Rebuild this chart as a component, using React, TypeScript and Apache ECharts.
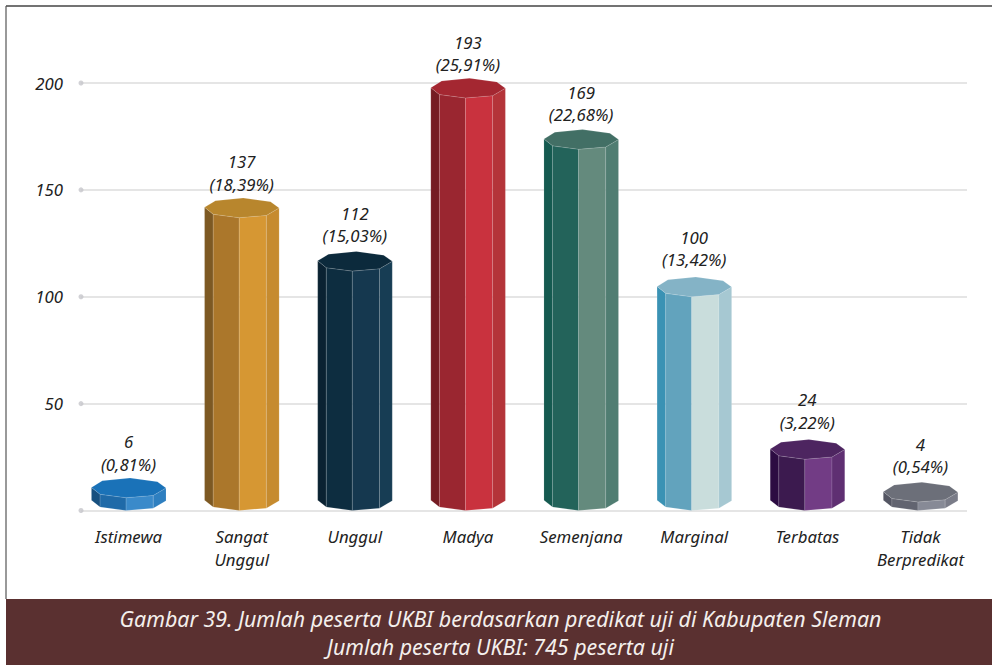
import React, { useEffect, useRef } from "react";
import * as echarts from "echarts";

const categories = ["Istimewa", "Sangat\nUnggul", "Unggul", "Madya", "Semenjana", "Marginal", "Terbatas", "Tidak\nBerpredikat"];
const counts = [6, 137, 112, 193, 169, 100, 24, 4];
const shares = ["(0,81%)", "(18,39%)", "(15,03%)", "(25,91%)", "(22,68%)", "(13,42%)", "(3,22%)", "(0,54%)"];
const yTicks = [0, 50, 100, 150, 200];
const captionLines = [
  "Gambar 39. Jumlah peserta UKBI berdasarkan predikat uji di Kabupaten Sleman",
  "Jumlah peserta UKBI: 745 peserta uji",
];
// top face, then the four visible side faces from left to right
const barColors = [
  ["#1a72b8", "#17507f", "#1f6aa8", "#3a8aca", "#2e7fc0"],
  ["#b8862d", "#7d5923", "#ab772b", "#d69733", "#c68b2f"],
  ["#0c2a3c", "#0a2232", "#0d2d40", "#15384f", "#173d54"],
  ["#a42731", "#751c23", "#9a2630", "#c9323e", "#b43439"],
  ["#426f65", "#155a50", "#23635a", "#648a7d", "#507d72"],
  ["#84b3c6", "#3a92b4", "#62a3bd", "#c9dddc", "#a6c8d2"],
  ["#4d2560", "#2c0c42", "#3c1a4f", "#723c85", "#5f2f72"],
  ["#6c6f79", "#545663", "#626470", "#878a96", "#7a7c88"],
];
// the labels were placed by hand in the reference: extra lift per bar, in pixels
const labelLift = [0, 0, 2, 0, 1.5, 4, 3.5, 2];

const FONT = '"Noto Sans", sans-serif';
// octagon outline, relative to its front vertex, in fractions of a category band
const OCTAGON = [
  [-0.306, -0.091], [-0.23, -0.03], [0, 0], [0.24, -0.02], [0.353, -0.086],
  [0.277, -0.141], [0.035, -0.174], [-0.21, -0.15],
];

function renderBar(params: any, api: any) {
  const i = api.value(0);
  const v = api.value(1);
  const top = api.coord([i, v]);
  const base = api.coord([i, 0]);
  const band = api.size([1, 0])[0];
  const fx = top[0] - 0.022 * band;
  const colors = barColors[i];
  const at = (o: number[], y: number) => [fx + o[0] * band, y + o[1] * band];
  const edge = { stroke: "rgba(255,255,255,0.15)", lineWidth: 0.8 };
  const children: any[] = [];
  for (let k = 0; k < 4; k++) {
    children.push({
      type: "polygon",
      shape: { points: [at(OCTAGON[k], top[1]), at(OCTAGON[k + 1], top[1]), at(OCTAGON[k + 1], base[1]), at(OCTAGON[k], base[1])] },
      style: { fill: colors[k + 1], ...edge },
    });
  }
  children.push({
    type: "polygon",
    shape: { points: OCTAGON.map((o) => at(o, top[1])) },
    style: { fill: colors[0], ...edge },
  });
  children.push({
    type: "text",
    x: top[0],
    y: top[1] - 67 - labelLift[i],
    style: {
      text: `${counts[i]}\n${shares[i]}`,
      fill: "#222222",
      font: `italic 16.8px ${FONT}`,
      lineHeight: 22.5,
      align: "center",
      verticalAlign: "top",
    },
  });
  return { type: "group", children };
}

export default function App() {
  const ref = useRef<HTMLDivElement>(null);
  useEffect(() => {
    const chart = echarts.init(ref.current, undefined, { renderer: "svg" });
    chart.setOption({
      animation: false,
      backgroundColor: "#ffffff",
      grid: [
        { left: 81, width: 886, top: 83, height: 427.5 },
        { left: 72, width: 905, top: 83, height: 427.5 },
      ],
      xAxis: [
        { gridIndex: 0, type: "value", min: 0, max: 1, show: false },
        {
          gridIndex: 1,
          type: "category",
          data: categories,
          axisLine: { show: false },
          axisTick: { show: false },
          axisLabel: {
            interval: 0,
            margin: 14.5,
            color: "#222222",
            fontFamily: FONT,
            fontStyle: "italic",
            fontSize: 16.8,
            lineHeight: 23,
          },
        },
      ],
      yAxis: [
        {
          gridIndex: 0,
          type: "value",
          min: 0,
          max: 200,
          interval: 50,
          axisLine: { show: false },
          axisTick: { show: false },
          splitLine: { lineStyle: { color: "#dcdcdc", width: 1.5 } },
          axisLabel: {
            margin: 18,
            color: "#222222",
            fontFamily: FONT,
            fontStyle: "italic",
            fontSize: 16.8,
            padding: [0, 0, 2, 0],
            formatter: (v: number) => (v === 0 ? "" : String(v)),
          },
        },
        { gridIndex: 1, type: "value", min: 0, max: 200, interval: 50, show: false },
      ],
      series: [
        {
          type: "scatter",
          xAxisIndex: 0,
          yAxisIndex: 0,
          symbolSize: 5,
          itemStyle: { color: "#c6c6ca" },
          clip: false,
          silent: true,
          data: yTicks.map((t) => [0, t]),
        },
        {
          type: "custom",
          xAxisIndex: 1,
          yAxisIndex: 1,
          clip: false,
          silent: true,
          renderItem: renderBar,
          encode: { x: 0, y: 1 },
          data: counts.map((c, i) => [i, c]),
        },
      ],
      graphic: [
        { type: "line", shape: { x1: 6, y1: 6, x2: 992, y2: 6 }, style: { stroke: "#444444", lineWidth: 1.3 } },
        { type: "line", shape: { x1: 6, y1: 6, x2: 6, y2: 599 }, style: { stroke: "#555555", lineWidth: 1.2 } },
        { type: "rect", shape: { x: 6, y: 599, width: 986, height: 66 }, style: { fill: "#5a3030" } },
        ...captionLines.map((line, i) => ({
          type: "text",
          x: 500.5,
          y: 618 + i * 28,
          style: {
            text: line,
            fill: "#f4efec",
            font: `italic 21.4px ${FONT}`,
            align: "center",
            verticalAlign: "middle",
          },
        })),
      ],
    });
    return () => chart.dispose();
  }, []);
  return <div ref={ref} style={{ position: "fixed", left: 0, top: 0, width: 992, height: 665 }} />;
}
